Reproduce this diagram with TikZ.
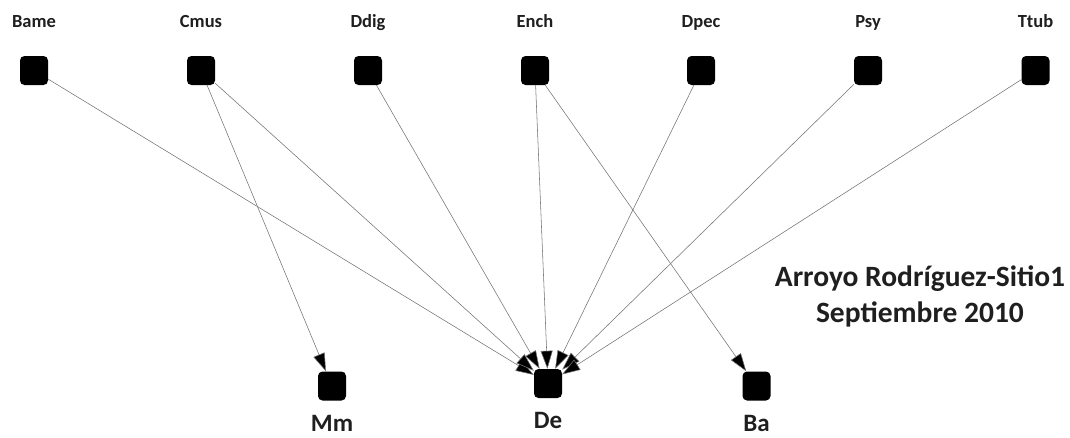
\documentclass[tikz,border=0pt]{standalone}
\usepackage{fontspec}
\setmainfont{Carlito}
\usetikzlibrary{arrows.meta}
\begin{document}
\begin{tikzpicture}[x=1pt,y=-1pt,
  vbox/.style={draw=none,fill=black,rounded corners=4.5pt,minimum width=28pt,minimum height=29pt,inner sep=0pt},
  toplabel/.style={font=\fontsize{18.5}{18.5}\selectfont\bfseries,text=black!88,anchor=base},
  botlabel/.style={font=\fontsize{25}{25}\selectfont\bfseries,text=black!88,anchor=base},
  link/.style={draw=black!55,line width=0.55pt,-{Triangle[length=18pt,width=12pt,fill=black]}}]
  \useasboundingbox (0,0) rectangle (1070,437);
  % source variables
  \foreach \n/\x in {Bame/34,Cmus/201,Ddig/368,Ench/535,Dpec/701,Psy/868,Ttub/1035.5}{
    \node[vbox] (\n) at (\x,70.5) {};
    \node[toplabel] (\n-lab) at (\x,27) {\n};
  }
  % response variables
  \node[vbox] (Mm) at (332,386) {};
  \node[vbox] (De) at (548,383.5) {};
  \node[vbox] (Ba) at (756.5,386) {};
  \node[botlabel] (Mm-lab) at (332,431) {Mm};
  \node[botlabel] (De-lab) at (548,428) {De};
  \node[botlabel] (Ba-lab) at (756.5,431) {Ba};
  % title
  \node[font=\fontsize{29.5}{36}\selectfont\bfseries,text=black!88,align=center] (title) at (920,296) {Arroyo Rodríguez-Sitio1\\Septiembre 2010};
  % links
  \foreach \a/\b in {Bame/De,Cmus/Mm,Cmus/De,Ddig/De,Ench/De,Ench/Ba,Dpec/De,Psy/De,Ttub/De}{
    \draw[link] (\a) -- (\b);
  }
\end{tikzpicture}
\end{document}
